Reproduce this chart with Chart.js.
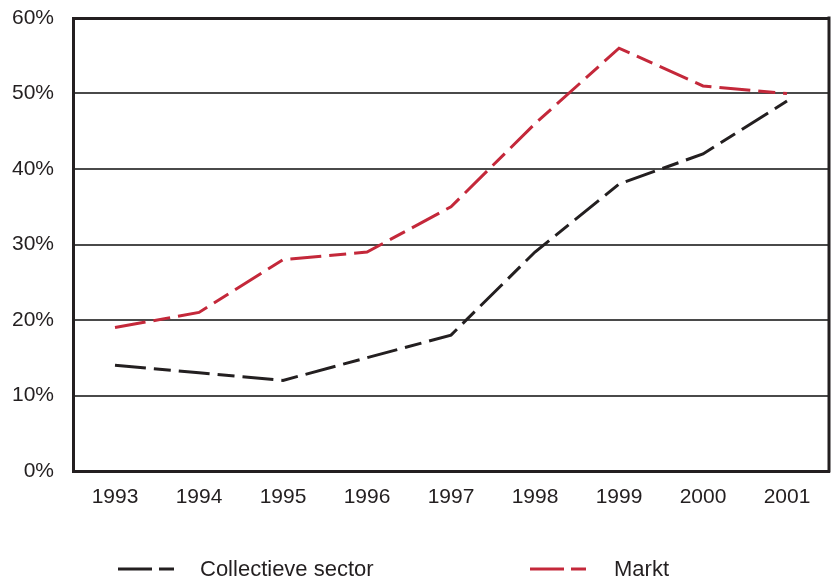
<!DOCTYPE html>
<html>
<head>
<meta charset="utf-8">
<script src="https://cdn.jsdelivr.net/npm/chart.js@4"></script>
<style>
  html, body { margin: 0; padding: 0; background: #fff; }
  #wrap { width: 831px; height: 580px; }
</style>
</head>
<body>
<div id="wrap"><canvas id="chart" width="831" height="580"></canvas></div>
<script>
/* ---------------- Data ---------------- */
const years = ['1993', '1994', '1995', '1996', '1997', '1998', '1999', '2000', '2001'];
const collectieve = [14, 13, 12, 15, 18, 29, 38, 42, 49];
const markt = [19, 21, 28, 29, 35, 46, 56, 51, 50];
const seriesNames = ['Collectieve sector', 'Markt'];
const seriesColors = ['#231f20', '#c4283a'];

const ink = '#231f20';
const fontFamily = '"Liberation Sans", Arial, Helvetica, sans-serif';
const dash = [31, 8, 17, 8];

// Frame (right edge) and bottom legend
const framePlugin = {
  id: 'frame',
  beforeDatasetsDraw(chart) {
    const { ctx, chartArea: a } = chart;
    ctx.save();
    ctx.strokeStyle = ink;
    ctx.lineWidth = 3;
    ctx.beginPath();
    ctx.moveTo(a.right, a.top - 1.5);
    ctx.lineTo(a.right, a.bottom + 1.5);
    ctx.stroke();
    ctx.restore();
  },
  afterDraw(chart) {
    const { ctx } = chart;
    const y = 569;
    const items = [{ x: 118, tx: 200 }, { x: 530, tx: 614 }];
    ctx.save();
    chart.data.datasets.forEach((ds, i) => {
      const it = items[i];
      ctx.strokeStyle = ds.borderColor;
      ctx.lineWidth = 3;
      ctx.beginPath();
      ctx.moveTo(it.x, y);
      ctx.lineTo(it.x + 34, y);
      ctx.moveTo(it.x + 41, y);
      ctx.lineTo(it.x + 56, y);
      ctx.stroke();
      ctx.fillStyle = ink;
      ctx.font = '22px ' + fontFamily;
      ctx.textBaseline = 'middle';
      ctx.fillText(ds.label, it.tx, y + 1);
    });
    ctx.restore();
  }
};

const ctx = document.getElementById('chart').getContext('2d');
const chart = new Chart(ctx, {
  type: 'line',
  data: {
    labels: years,
    datasets: [
      {
        label: seriesNames[0],
        data: collectieve,
        borderColor: seriesColors[0],
        borderWidth: 3,
        borderDash: dash,
        pointRadius: 0,
        tension: 0,
        fill: false
      },
      {
        label: seriesNames[1],
        data: markt,
        borderColor: seriesColors[1],
        borderWidth: 3,
        borderDash: dash,
        pointRadius: 0,
        tension: 0,
        fill: false
      }
    ]
  },
  options: {
    responsive: false,
    animation: false,
    layout: { padding: { top: 18, right: 2, left: 0, bottom: 0 } },
    plugins: {
      legend: { display: false },
      tooltip: { enabled: false }
    },
    scales: {
      x: {
        offset: true,
        grid: { display: false, drawTicks: false },
        border: { display: true, color: ink, width: 3 },
        ticks: {
          color: ink,
          padding: 14,
          font: { family: fontFamily, size: 21 },
          maxRotation: 0
        },
        afterFit(scale) {
          scale.height = 109;
          scale.paddingLeft = 0;
          scale.paddingRight = 0;
        }
      },
      y: {
        min: 0,
        max: 60,
        grid: {
          drawTicks: false,
          color: (c) => c.tick.value === 0 ? 'rgba(0,0,0,0)' : (c.tick.value === 60 ? ink : '#4a4a4a'),
          lineWidth: (c) => c.tick.value === 60 ? 3 : 2
        },
        border: { display: true, color: ink, width: 3 },
        ticks: {
          stepSize: 10,
          color: ink,
          padding: 19,
          font: { family: fontFamily, size: 21 },
          callback: (v) => v + '%'
        },
        afterFit(scale) {
          scale.width = 73;
          scale.paddingTop = 0;
          scale.paddingBottom = 0;
        }
      }
    }
  },
  plugins: [framePlugin]
});
</script>
</body>
</html>
